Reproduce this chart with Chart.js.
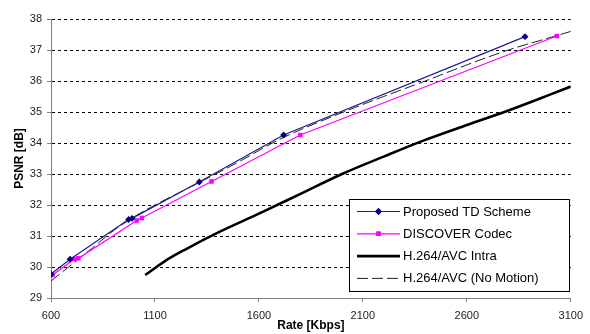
<!DOCTYPE html>
<html>
<head>
<meta charset="utf-8">
<script src="https://cdn.jsdelivr.net/npm/chart.js@4/dist/chart.umd.min.js"></script>
<style>
  html, body { margin: 0; padding: 0; background: #fff; }
  #wrap { position: relative; width: 590px; height: 334px; }
</style>
</head>
<body>
<div id="wrap"><canvas id="c"></canvas></div>
<script>
// Values (rate in Kbps, PSNR in dB).
const tdRate = [600, 692, 973, 990, 1313, 1719, 2880];
const tdPsnr = [29.77, 30.25, 31.53, 31.57, 32.74, 34.26, 37.43];

const discoverRate = [608, 712, 732, 1012, 1037, 1372, 1799, 3033];
const discoverPsnr = [29.74, 30.26, 30.28, 31.5, 31.58, 32.76, 34.26, 37.45];

const intraRate = [1053, 1150, 1250, 1400, 1600, 1800, 2000, 2200, 2400, 2600, 2800, 3000, 3100];
const intraPsnr = [29.74, 30.2, 30.58, 31.1, 31.72, 32.36, 33.0, 33.56, 34.1, 34.58, 35.05, 35.56, 35.82];

const noMotionRate = [600, 700, 800, 900, 1000, 1100, 1300, 1500, 1700, 2000, 2200, 2400, 2600, 2800, 3000, 3100];
const noMotionPsnr = [29.55, 30.08, 30.62, 31.17, 31.62, 32.0, 32.68, 33.38, 34.12, 34.98, 35.5, 36.0, 36.52, 37.0, 37.4, 37.6];

const xTicks = { min: 600, max: 3100, step: 500 };
const yTicks = { min: 29, max: 38, step: 1 };

const FONT = "'Liberation Sans', Arial, sans-serif";

/** zip two arrays into {x, y} points */
function pts(xs, ys) {
  return xs.map((x, i) => ({ x, y: ys[i] }));
}

/** Excel-style boxed legend drawn inside the plot area. */
const boxLegend = {
  id: "boxLegend",
  afterDatasetsDraw(chart) {
    const ctx = chart.ctx;
    const box = { x: 349.5, y: 199.5, w: 220, h: 92 };
    ctx.save();
    ctx.fillStyle = "#fff";
    ctx.fillRect(box.x, box.y, box.w, box.h);
    ctx.strokeStyle = "#000";
    ctx.lineWidth = 1;
    ctx.strokeRect(box.x, box.y, box.w, box.h);

    ctx.font = "13px " + FONT;
    ctx.textBaseline = "middle";
    chart.data.datasets.forEach((ds, i) => {
      const y = 211.5 + i * 22.3;
      const x0 = 357, x1 = 400;
      ctx.strokeStyle = ds.borderColor;
      ctx.lineWidth = ds.borderWidth;
      ctx.setLineDash(ds.borderDash || []);
      ctx.beginPath();
      ctx.moveTo(x0, y);
      ctx.lineTo(x1, y);
      ctx.stroke();
      ctx.setLineDash([]);
      if (ds.pointRadius > 0) {
        Chart.helpers.drawPoint(ctx, {
          pointStyle: ds.pointStyle,
          radius: ds.pointRadius,
          borderWidth: 1,
        }, (x0 + x1) / 2, y);
        ctx.fillStyle = ds.pointBackgroundColor;
        ctx.strokeStyle = ds.pointBorderColor;
        ctx.fill();
        ctx.stroke();
      }
      ctx.fillStyle = "#000";
      ctx.fillText(ds.label, 403, y + 0.5);
    });
    ctx.restore();
  },
};

new Chart(document.getElementById("c"), {
  type: "line",
  data: {
    datasets: [
      {
        label: "Proposed TD Scheme",
        data: pts(tdRate, tdPsnr),
        borderColor: "#1c1c8c",
        borderWidth: 1.2,
        pointStyle: "rectRot",
        pointRadius: 2.6,
        pointBackgroundColor: "#000080",
        pointBorderColor: "#000080",
        tension: 0,
      },
      {
        label: "DISCOVER Codec",
        data: pts(discoverRate, discoverPsnr),
        borderColor: "#ff00ff",
        borderWidth: 1.2,
        pointStyle: "rect",
        pointRadius: 2.3,
        pointBackgroundColor: "#ff00ff",
        pointBorderColor: "#ff00ff",
        tension: 0,
      },
      {
        label: "H.264/AVC Intra",
        data: pts(intraRate, intraPsnr),
        borderColor: "#000",
        borderWidth: 2.6,
        pointRadius: 0,
        cubicInterpolationMode: "monotone",
      },
      {
        label: "H.264/AVC (No Motion)",
        data: pts(noMotionRate, noMotionPsnr),
        borderColor: "#222",
        borderWidth: 1,
        borderDash: [11, 4],
        pointRadius: 0,
        cubicInterpolationMode: "monotone",
      },
    ],
  },
  options: {
    responsive: true,
    maintainAspectRatio: false,
    animation: false,
    layout: { padding: { left: 12, top: 19, right: 18, bottom: 1 } },
    plugins: {
      legend: { display: false },
      tooltip: { enabled: false },
    },
    scales: {
      x: {
        type: "linear",
        min: xTicks.min,
        max: xTicks.max,
        afterFit: (s) => { s.height = 35; },
        ticks: {
          stepSize: xTicks.step,
          padding: 7,
          color: "#222",
          font: { family: FONT, size: 11 },
          callback: (v) => String(v),
        },
        grid: {
          drawOnChartArea: false,
          tickLength: 4,
          color: "#808080",
        },
        border: { color: "#808080", width: 1 },
        title: {
          display: true,
          text: "Rate [Kbps]",
          color: "#000",
          padding: 0,
          font: { family: FONT, size: 12, weight: "bold" },
        },
      },
      y: {
        min: yTicks.min,
        max: yTicks.max,
        afterFit: (s) => { s.width = 39; },
        ticks: {
          stepSize: yTicks.step,
          padding: 5,
          color: "#222",
          font: { family: FONT, size: 11 },
          callback: (v) => String(v),
        },
        grid: {
          color: "#000",
          lineWidth: 1,
          tickLength: 4,
          tickColor: "#808080",
        },
        border: { color: "#808080", width: 1, dash: [3, 3] },
        title: {
          display: true,
          text: "PSNR [dB]",
          color: "#000",
          padding: 0,
          font: { family: FONT, size: 12, weight: "bold" },
        },
      },
    },
  },
  plugins: [boxLegend],
});
</script>
</body>
</html>
